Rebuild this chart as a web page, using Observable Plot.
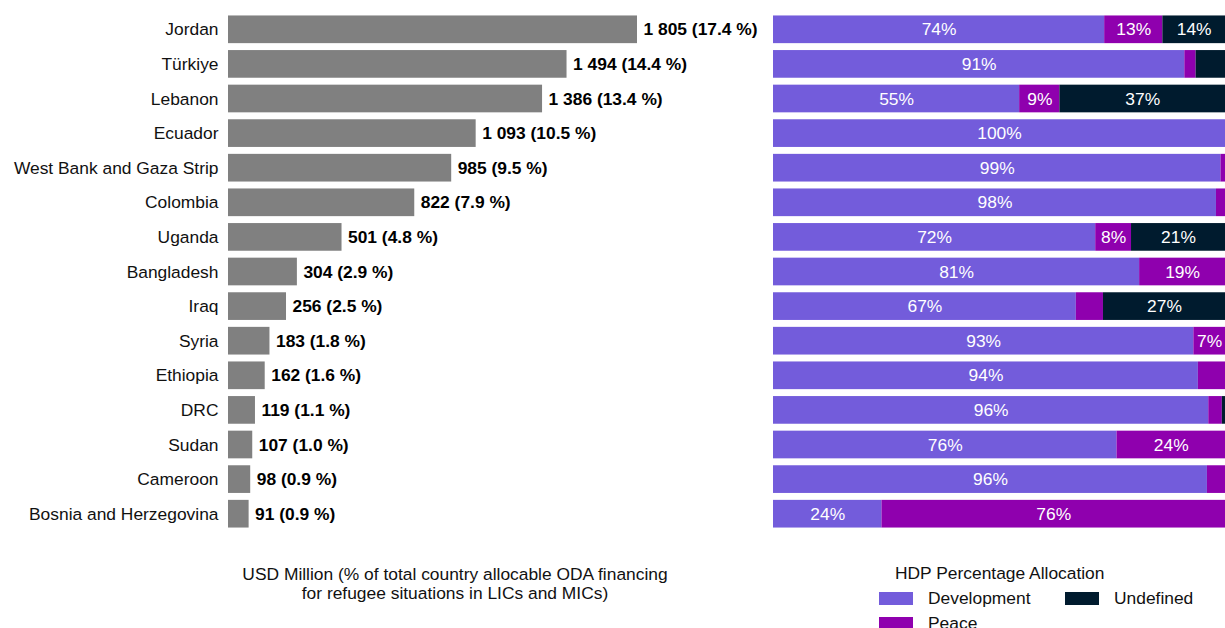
<!DOCTYPE html>
<html>
<head>
<meta charset="utf-8">
<script src="https://cdn.jsdelivr.net/npm/d3@7"></script>
<script src="https://cdn.jsdelivr.net/npm/@observablehq/plot@0.6"></script>
<style>
  html, body { margin: 0; padding: 0; background: #fff; }
  body { font-family: "Liberation Sans", Arial, sans-serif; color: #000; }
  #wrap { position: relative; width: 1225px; height: 628px; overflow: hidden; background: #fff; }
  #left { position: absolute; left: 0; top: 0; }
  #right { position: absolute; left: 773px; top: 0; }
  #xtitle { position: absolute; left: 155px; width: 600px; top: 565px; text-align: center; font-size: 17.4px; line-height: 19px; color: #111; }
  #legend { position: absolute; left: 879px; top: 564px; font-size: 17.4px; color: #111; }
  .lt { position: absolute; left: 16px; top: 0; white-space: nowrap; line-height: 19px; }
  .li { position: absolute; white-space: nowrap; line-height: 19px; }
  .sw { position: absolute; width: 34px; height: 13px; }
</style>
</head>
<body>
<div id="wrap">
  <div id="left"></div>
  <div id="right"></div>
  <div id="xtitle"></div>
  <div id="legend"></div>
</div>
<script>
const countries = ["Jordan","Türkiye","Lebanon","Ecuador","West Bank and Gaza Strip","Colombia","Uganda","Bangladesh","Iraq","Syria","Ethiopia","DRC","Sudan","Cameroon","Bosnia and Herzegovina"];
const usdMillion = [1805,1494,1386,1093,985,822,501,304,256,183,162,119,107,98,91];
const pctShare = [17.4,14.4,13.4,10.5,9.5,7.9,4.8,2.9,2.5,1.8,1.6,1.1,1.0,0.9,0.9];
const development = [74,91,55,100,99,98,72,81,67,93,94,96.3,76,96,24];
const peace = [13,2.5,9,0,1,2,8,19,6,7,6,3,24,4,76];
const undefinedShare = [14,6.5,37,0,0,0,21,0,27,0,0,0.7,0,0,0];
const allocTypes = ["Development","Peace","Undefined"];
const allocColors = ["#735cdb","#8f00ae","#001b2e"];
const xTitle = ["USD Million (% of total country allocable ODA financing","for refugee situations in LICs and MICs)"];
const legendTitle = "HDP Percentage Allocation";

const font = '"Liberation Sans", Arial, sans-serif';
const FS = 17.4;
const fmtNum = v => String(v).replace(/\B(?=(\d{3})+(?!\d))/g, "\u00a0");
const leftData = countries.map((c, i) => ({country: c, usd: usdMillion[i], pct: pctShare[i]}));

const H = 545, MT = 12, MB = 14;
const yScale = {domain: countries, paddingInner: 0.2, paddingOuter: 0.1, round: false, label: null};

const left = Plot.plot({
  width: 773, height: H,
  marginLeft: 228, marginRight: 136, marginTop: MT, marginBottom: MB,
  style: {fontFamily: font, fontSize: FS + "px", background: "#fff", overflow: "visible"},
  x: {domain: [0, 1805], axis: null},
  y: {...yScale, axis: null},
  marks: [
    Plot.barX(leftData, {x: "usd", y: "country", fill: "#808080"}),
    Plot.text(leftData, {x: "usd", y: "country", dx: 6, textAnchor: "start", fontWeight: "bold", fontSize: FS, fill: "#000",
      text: d => `${fmtNum(d.usd)} (${d.pct.toFixed(1)} %)`}),
    Plot.axisY({tickSize: 0, tickPadding: 10, fontSize: FS, label: null, fill: "#111"})
  ]
});
document.getElementById("left").appendChild(left);

const rows = [];
countries.forEach((c, i) => {
  rows.push({country: c, type: "Development", value: development[i]});
  rows.push({country: c, type: "Peace", value: peace[i]});
  rows.push({country: c, type: "Undefined", value: undefinedShare[i]});
});

const right = Plot.plot({
  width: 452, height: H,
  marginLeft: 0, marginRight: 0, marginTop: MT, marginBottom: MB,
  style: {fontFamily: font, fontSize: FS + "px", background: "#fff", overflow: "visible"},
  x: {domain: [0, 1], axis: null},
  y: {...yScale, axis: null},
  color: {domain: allocTypes, range: allocColors},
  marks: [
    Plot.barX(rows, Plot.stackX({offset: "normalize", x: "value", y: "country", fill: "type"})),
    Plot.text(rows, Plot.stackX({offset: "normalize", x: "value", y: "country", z: "type",
      text: d => d.value >= 7 ? Math.round(d.value) + "%" : "", fill: "#fff", fontSize: FS}))
  ]
});
document.getElementById("right").appendChild(right);

document.getElementById("xtitle").innerHTML = xTitle.join("<br>");

const lg = document.getElementById("legend");
lg.innerHTML = `<div class="lt">${legendTitle}</div>` +
  `<div class="sw" style="left:0;top:28px;background:${allocColors[0]}"></div><div class="li" style="left:49px;top:25px">${allocTypes[0]}</div>` +
  `<div class="sw" style="left:186px;top:28px;background:${allocColors[2]}"></div><div class="li" style="left:235px;top:25px">${allocTypes[2]}</div>` +
  `<div class="sw" style="left:0;top:53px;background:${allocColors[1]}"></div><div class="li" style="left:49px;top:50px">${allocTypes[1]}</div>`;
</script>
</body>
</html>
